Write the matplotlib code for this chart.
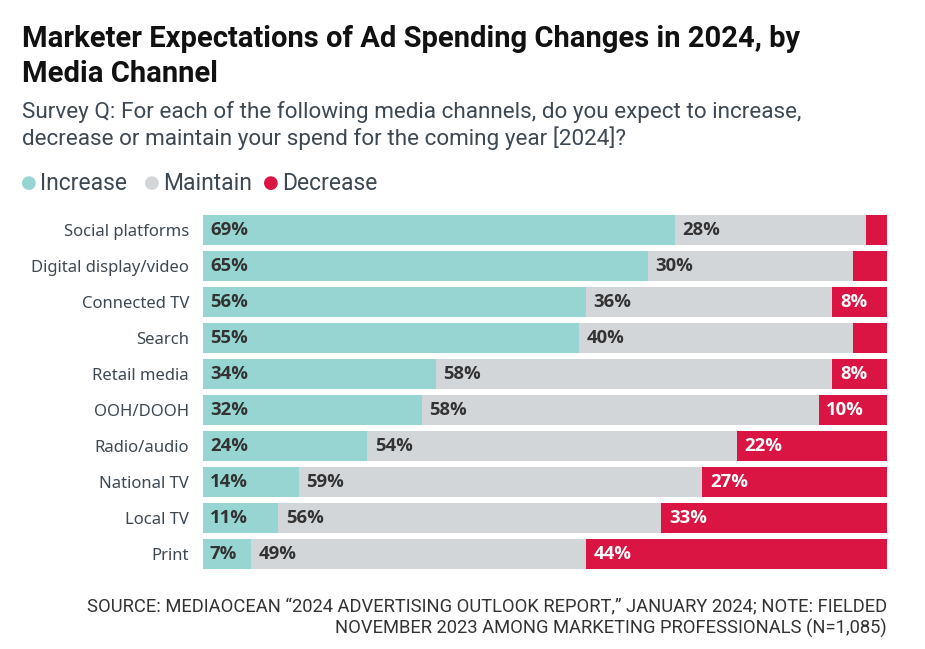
import matplotlib
matplotlib.use('Agg')
import matplotlib.pyplot as plt

# data (top to bottom)
channels = ['Social platforms', 'Digital display/video', 'Connected TV', 'Search',
            'Retail media', 'OOH/DOOH', 'Radio/audio', 'National TV', 'Local TV', 'Print']
increase = [69, 65, 56, 55, 34, 32, 24, 14, 11, 7]
maintain = [28, 30, 36, 40, 58, 58, 54, 59, 56, 49]
decrease = [3, 5, 8, 5, 8, 10, 22, 27, 33, 44]
show_decrease_label = [False, False, True, False, True, True, True, True, True, True]

TEAL = '#97d5d2'
GRAY = '#d3d6d9'
RED = '#da1443'
DARK = '#333333'
LABEL = '#3d4852'

narrow = ['Roboto', 'DejaVu Sans']
plain = ['Noto Sans', 'DejaVu Sans']
bold_num = ['Open Sans', 'DejaVu Sans']

fig = plt.figure(figsize=(9.25, 6.49), dpi=100)
ax = fig.add_axes([203 / 925, 1 - 572 / 649, (887 - 203) / 925, 360 / 649])

ypos = list(range(len(channels)))
h = 0.83
ax.barh(ypos, increase, height=h, color=TEAL)
ax.barh(ypos, maintain, left=increase, height=h, color=GRAY)
left_dec = [a + b for a, b in zip(increase, maintain)]
ax.barh(ypos, decrease, left=left_dec, height=h, color=RED)

for i in ypos:
    ax.annotate(f'{increase[i]}%', (0, i), xytext=(5, 0), textcoords='offset points',
                va='center', ha='left', fontsize=13.3, fontweight='bold', color=DARK,
                family=bold_num)
    ax.annotate(f'{maintain[i]}%', (increase[i], i), xytext=(5.5, 0), textcoords='offset points',
                va='center', ha='left', fontsize=13.3, fontweight='bold', color=DARK,
                family=bold_num)
    if show_decrease_label[i]:
        ax.annotate(f'{decrease[i]}%', (left_dec[i], i), xytext=(5.5, 0), textcoords='offset points',
                    va='center', ha='left', fontsize=13.3, fontweight='bold', color='white',
                    family=bold_num)

ax.set_xlim(0, 100)
ax.set_ylim(len(channels) - 0.5, -0.5)
ax.set_yticks(ypos)
ax.set_yticklabels(channels, fontsize=12, color=LABEL, family=plain)
ax.tick_params(axis='y', length=0, pad=10)
ax.set_xticks([])
for s in ax.spines.values():
    s.set_visible(False)

fig.text(22 / 925, 1 - 82 / 649, 'Marketer Expectations of Ad Spending Changes in 2024, by\nMedia Channel',
         fontsize=21, fontweight='bold', color='#111111', family=narrow, va='baseline',
         linespacing=1.32)
fig.text(22 / 925, 1 - 145 / 649, 'Survey Q: For each of the following media channels, do you expect to increase,\ndecrease or maintain your spend for the coming year [2024]?',
         fontsize=16.2, color='#3d4852', family=narrow, va='baseline', linespacing=1.2)

# legend
for name, col, x0, x1 in [('Increase', TEAL, 21, 40), ('Maintain', GRAY, 144, 163), ('Decrease', RED, 263, 282)]:
    fig.text(x0 / 925, 1 - 183 / 649, '\u25cf', color=col, fontsize=13, va='center', family=['DejaVu Sans'])
    fig.text(x1 / 925, 1 - 183 / 649, name, color='#3d4852', fontsize=16.5, va='center', family=narrow)

fig.text(887 / 925, 1 - 634 / 649, 'SOURCE: MEDIAOCEAN \u201c2024 ADVERTISING OUTLOOK REPORT,\u201d JANUARY 2024; NOTE: FIELDED\nNOVEMBER 2023 AMONG MARKETING PROFESSIONALS (N=1,085)',
         fontsize=13.2, color='#333333', family=narrow, ha='right', va='baseline', linespacing=1.2)

fig.savefig('out.png', dpi=100, facecolor='white')
